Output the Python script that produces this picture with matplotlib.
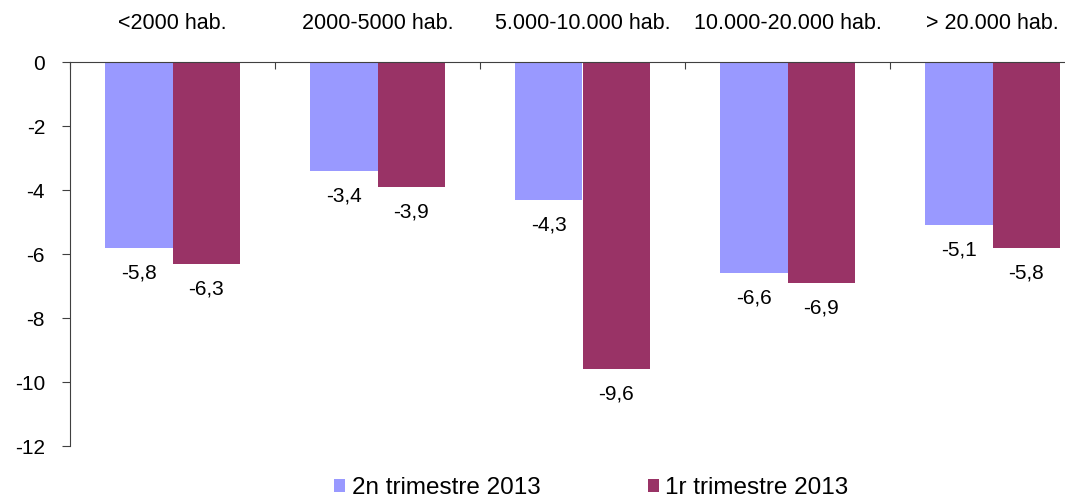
import matplotlib.pyplot as plt
import numpy as np

categories = ['<2000 hab.', '2000-5000 hab.', '5.000-10.000 hab.', '10.000-20.000 hab.', '> 20.000 hab.']
q2_2013 = [-5.8, -3.4, -4.3, -6.6, -5.1]
q1_2013 = [-6.3, -3.9, -9.6, -6.9, -5.8]
series_names = ['2n trimestre 2013', '1r trimestre 2013']
y_ticks = [0, -2, -4, -6, -8, -10, -12]

plt.rcParams['font.family'] = ['Liberation Sans', 'DejaVu Sans']
plt.rcParams['font.size'] = 15

fig = plt.figure(figsize=[10.65, 5.03], dpi=100)
ax = fig.add_axes([70 / 1065, 57 / 503, 1025 / 1065, 384 / 503])

x = np.arange(len(categories))
w = 0.33
bars1 = ax.bar(x - w / 2, q2_2013, w, color='#9999FF', label=series_names[0])
bars2 = ax.bar(x + w / 2, q1_2013, w, color='#993366', label=series_names[1])

for bars, vals in [(bars1, q2_2013), (bars2, q1_2013)]:
    for b, v in zip(bars, vals):
        ax.annotate(f'{v:.1f}'.replace('.', ','), (b.get_x() + b.get_width() / 2, v),
                    xytext=(0, -25), textcoords='offset pixels', ha='center', va='center')

ax.set_xlim(-0.5, len(categories) - 0.5)
ax.set_ylim(-12, 0)
ax.set_yticks(y_ticks)
ax.set_yticklabels([str(t) for t in y_ticks])

ax.xaxis.tick_top()
ax.set_xticks(np.arange(len(categories) + 1) - 0.5)
ax.set_xticklabels([])
ax.tick_params(axis='x', direction='in', length=5, color='#404040')
ax.tick_params(axis='y', direction='out', length=6, pad=12, color='#404040')

for i, c in enumerate(categories):
    ax.text(i, 1.1, c, transform=ax.get_xaxis_transform(), ha='center', va='center',
            fontsize=15.5)

ax.spines['right'].set_visible(False)
ax.spines['bottom'].set_visible(False)
ax.spines['top'].set_color('#404040')
ax.spines['left'].set_color('#404040')

fig.legend(handles=[bars1, bars2], loc='center left', bbox_to_anchor=(0.3025, 0.03),
           ncol=2, frameon=False, handlelength=0.45, handleheight=0.45,
           handletextpad=0.28, columnspacing=4.4, fontsize=17.5, borderpad=0)

fig.savefig('out.png', dpi=100)
